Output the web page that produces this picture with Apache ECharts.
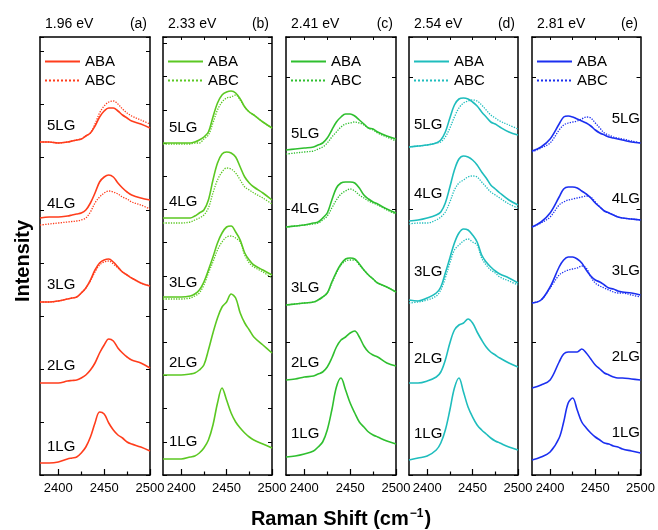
<!DOCTYPE html>
<html>
<head>
<meta charset="utf-8">
<script src="https://cdn.jsdelivr.net/npm/echarts@6/dist/echarts.min.js"></script>
<style>
  html, body { margin: 0; padding: 0; background: #fff; }
  #chart { width: 658px; height: 530px; }
</style>
</head>
<body>
<div id="chart"></div>
<script>
// Raman shift grid (cm-1) shared by every spectrum
const ramanShift = [2380, 2390, 2400, 2410, 2415, 2420, 2425, 2430, 2435, 2440,
                    2445, 2450, 2455, 2460, 2465, 2470, 2475, 2480, 2490, 2500];

const energies = ['1.96 eV', '2.33 eV', '2.41 eV', '2.54 eV', '2.81 eV'];
const panelTags = ['(a)', '(b)', '(c)', '(d)', '(e)'];
const layers = ['1LG', '2LG', '3LG', '4LG', '5LG'];
const stackings = ['ABA', 'ABC'];

// stacked intensities (arb. units), ABA rows 1LG..5LG, ABC rows 3LG..5LG
const abaA = [
  [1.2, 1.2, 1.3, 1.6, 1.7, 1.8, 2.2, 2.8, 3.8, 5.2, 6.3, 6.1, 5.2, 4.5, 4.0, 3.7, 3.3, 3.1, 2.8, 2.4],
  [9.2, 9.2, 9.2, 9.4, 9.45, 9.5, 9.7, 10.0, 10.5, 11.2, 12.2, 13.0, 13.6, 13.4, 12.7, 12.2, 11.8, 11.5, 11.2, 10.7],
  [17.3, 17.3, 17.4, 17.6, 17.7, 17.8, 18.2, 18.7, 19.5, 20.5, 21.2, 21.5, 21.6, 21.3, 20.8, 20.3, 20.0, 19.7, 19.2, 18.9],
  [25.7, 25.8, 25.8, 25.9, 26.0, 26.1, 26.2, 26.5, 27.2, 28.2, 29.3, 29.8, 30.0, 29.8, 29.2, 28.7, 28.3, 28.0, 27.7, 27.5],
  [33.3, 33.3, 33.2, 33.3, 33.4, 33.5, 33.6, 33.9, 34.2, 34.9, 35.8, 36.4, 36.7, 36.7, 36.4, 36.0, 35.7, 35.4, 35.1, 34.7]
];
const abcA = [
  [17.3, 17.3, 17.4, 17.6, 17.7, 17.8, 18.2, 18.7, 19.4, 20.3, 21.0, 21.3, 21.4, 21.1, 20.7, 20.3, 20.0, 19.7, 19.2, 18.9],
  [25.0, 25.1, 25.2, 25.3, 25.35, 25.4, 25.5, 25.7, 26.3, 27.2, 27.8, 28.2, 28.4, 28.3, 28.1, 27.8, 27.6, 27.3, 27.0, 26.6],
  [33.3, 33.3, 33.2, 33.3, 33.4, 33.5, 33.6, 33.9, 34.2, 35.1, 36.2, 36.9, 37.3, 37.4, 37.1, 36.6, 36.2, 35.9, 35.5, 35.1]
];

const abaB = [
  [1.6, 1.6, 1.6, 1.8, 1.9, 2.2, 2.7, 3.5, 5.0, 7.2, 8.7, 7.5, 6.2, 5.3, 4.7, 4.2, 3.8, 3.5, 3.1, 2.7],
  [10.0, 10.0, 10.0, 10.1, 10.2, 10.5, 11.0, 12.5, 14.2, 15.7, 16.8, 17.3, 18.1, 17.7, 16.2, 15.2, 14.5, 13.8, 13.0, 12.2],
  [17.8, 17.8, 17.8, 17.9, 18.1, 18.5, 19.3, 20.5, 21.8, 23.2, 24.2, 24.8, 24.9, 24.3, 23.5, 22.2, 21.5, 21.0, 20.5, 20.0],
  [25.7, 25.7, 25.7, 25.7, 25.9, 26.2, 26.5, 27.5, 29.5, 31.2, 32.1, 32.3, 32.2, 31.8, 30.8, 29.8, 29.2, 28.8, 28.2, 27.5],
  [33.2, 33.2, 33.2, 33.2, 33.3, 33.5, 33.8, 34.3, 35.8, 37.2, 38.0, 38.3, 38.4, 38.2, 37.6, 36.8, 36.3, 36.0, 35.3, 34.7]
];
const abcB = [
  [17.6, 17.6, 17.6, 17.7, 17.9, 18.2, 19.0, 20.2, 21.3, 22.5, 23.3, 23.8, 23.9, 23.7, 23.3, 22.0, 21.2, 20.8, 20.3, 19.7],
  [25.2, 25.2, 25.2, 25.3, 25.5, 25.7, 26.0, 26.7, 28.2, 29.5, 30.3, 30.7, 30.6, 30.2, 29.5, 28.8, 28.5, 28.2, 27.7, 27.1],
  [33.1, 33.1, 33.1, 33.1, 33.2, 33.2, 33.6, 34.0, 35.2, 36.5, 37.3, 37.7, 37.8, 38.0, 37.5, 36.8, 36.3, 36.0, 35.3, 34.7]
];

const abaC = [
  [1.8, 1.9, 2.1, 2.4, 2.8, 3.3, 4.5, 6.5, 8.8, 9.7, 8.5, 7.2, 6.2, 5.3, 4.8, 4.3, 4.0, 3.8, 3.4, 3.1],
  [9.5, 9.6, 9.8, 9.9, 10.1, 10.3, 10.8, 11.7, 12.8, 13.5, 13.8, 14.2, 14.4, 13.8, 12.9, 12.3, 12.0, 11.8, 11.2, 10.9],
  [17.0, 17.1, 17.2, 17.3, 17.5, 17.8, 18.2, 19.3, 20.3, 21.1, 21.6, 21.7, 21.6, 21.1, 20.5, 20.0, 19.6, 19.2, 18.8, 18.3],
  [24.8, 24.9, 25.0, 25.2, 25.3, 25.7, 26.2, 27.5, 28.7, 29.2, 29.3, 29.3, 29.2, 28.7, 28.0, 27.6, 27.3, 27.1, 26.6, 26.2],
  [32.5, 32.6, 32.7, 32.8, 33.0, 33.2, 33.7, 34.5, 35.3, 35.8, 36.1, 36.1, 35.9, 35.5, 35.1, 34.7, 34.6, 34.3, 33.9, 33.6]
];
const abcC = [
  [17.0, 17.1, 17.2, 17.3, 17.5, 17.8, 18.2, 19.2, 20.2, 21.0, 21.4, 21.5, 21.5, 21.0, 20.5, 20.0, 19.6, 19.2, 18.8, 18.3],
  [24.8, 24.9, 25.0, 25.1, 25.2, 25.5, 25.9, 26.7, 27.5, 28.1, 28.4, 28.6, 28.4, 28.0, 27.7, 27.4, 27.2, 27.0, 26.5, 26.1],
  [32.1, 32.2, 32.3, 32.4, 32.6, 32.8, 33.2, 33.8, 34.3, 34.8, 35.1, 35.2, 35.3, 35.2, 35.0, 34.7, 34.5, 34.2, 33.8, 33.4]
];

const abaD = [
  [1.5, 1.7, 1.9, 2.5, 3.2, 4.5, 6.5, 8.7, 9.7, 8.3, 6.8, 5.8, 5.0, 4.5, 4.1, 3.7, 3.4, 3.2, 2.8, 2.5],
  [9.2, 9.2, 9.4, 9.8, 10.3, 11.5, 13.2, 14.5, 15.0, 15.2, 15.6, 15.2, 14.3, 13.5, 12.8, 12.3, 12.0, 11.7, 11.2, 10.8],
  [17.5, 17.4, 17.7, 18.2, 18.8, 20.2, 21.7, 23.2, 24.2, 24.6, 24.5, 24.0, 23.3, 22.0, 21.3, 20.8, 20.4, 20.1, 19.7, 19.2],
  [25.4, 25.5, 25.7, 26.0, 26.3, 27.2, 28.8, 30.5, 31.6, 31.9, 31.8, 31.5, 31.0, 30.3, 29.7, 29.0, 28.6, 28.2, 27.5, 27.0],
  [32.8, 32.9, 33.0, 33.2, 33.5, 34.3, 35.7, 37.0, 37.6, 37.7, 37.6, 37.3, 36.9, 36.3, 35.8, 35.3, 35.1, 34.8, 34.3, 34.0]
];
const abcD = [
  [17.2, 17.3, 17.5, 17.9, 18.5, 19.7, 21.2, 22.5, 23.0, 23.4, 23.6, 23.3, 23.0, 21.7, 21.0, 20.5, 20.2, 19.8, 19.4, 19.0],
  [25.1, 25.2, 25.2, 25.5, 25.8, 26.3, 27.3, 28.5, 29.2, 29.5, 29.8, 29.9, 29.8, 29.3, 28.8, 28.3, 28.0, 27.7, 27.1, 26.7],
  [32.8, 32.9, 33.0, 33.2, 33.3, 33.8, 34.7, 35.8, 36.7, 37.2, 37.4, 37.5, 37.4, 37.0, 36.5, 36.0, 35.7, 35.4, 35.0, 34.6]
];

const abaE = [
  [1.5, 1.8, 2.3, 3.7, 5.3, 7.2, 7.7, 6.5, 5.3, 4.7, 4.2, 3.8, 3.5, 3.2, 3.1, 2.9, 2.8, 2.6, 2.4, 2.2],
  [8.7, 9.0, 9.5, 11.3, 12.1, 12.3, 12.3, 12.3, 12.6, 12.2, 11.6, 11.0, 10.6, 10.2, 10.0, 9.8, 9.7, 9.7, 9.6, 9.5],
  [17.2, 17.5, 18.8, 20.8, 21.5, 21.8, 21.8, 21.6, 21.2, 20.5, 19.9, 19.5, 19.3, 19.0, 18.7, 18.6, 18.4, 18.3, 18.2, 18.0],
  [24.8, 25.3, 26.2, 27.8, 28.6, 28.8, 28.8, 28.7, 28.4, 28.1, 27.7, 27.2, 26.8, 26.4, 26.2, 26.0, 25.8, 25.7, 25.6, 25.5],
  [32.4, 32.8, 33.6, 35.1, 35.8, 35.9, 35.8, 35.6, 35.4, 35.2, 34.9, 34.5, 34.2, 34.0, 33.8, 33.7, 33.6, 33.5, 33.3, 33.2]
];
const abcE = [
  [17.2, 17.5, 18.7, 20.0, 20.3, 20.5, 20.6, 20.7, 20.9, 20.7, 19.8, 19.2, 18.9, 18.7, 18.5, 18.3, 18.2, 18.2, 18.0, 17.8],
  [24.8, 25.2, 25.8, 27.0, 27.3, 27.5, 27.6, 27.7, 27.8, 27.9, 27.8, 27.3, 26.8, 26.4, 26.2, 26.0, 25.8, 25.7, 25.6, 25.5],
  [32.3, 32.7, 33.2, 34.5, 35.0, 35.2, 35.3, 35.4, 35.6, 35.8, 35.7, 35.2, 34.7, 34.2, 34.0, 33.8, 33.7, 33.6, 33.4, 33.2]
];

const abaSets = [abaA, abaB, abaC, abaD, abaE];
const abcSets = [abcA, abcB, abcC, abcD, abcE];

// layout / style
const colors = ['#ff3d1c', '#5bc822', '#2fbf2f', '#1fbdbd', '#1b2ff0'];
const gridLeft = [40, 163, 286, 409, 532];
const gridWidth = [110, 109, 110, 109, 109];
const yInterval = [5.3, 3.32, 13.27, 13.27, 13.27];
const yMax = 43.8;
// label anchor per panel [x, y of 1LG..5LG]; panel e is right-aligned
const labelX = [47, 169, 291, 414, 640];
const labelY = [
  [447, 366, 285, 204, 126],
  [442, 363, 283, 202, 128],
  [434, 363, 288, 209, 134],
  [434, 359, 272, 194, 125],
  [433, 357, 271, 199, 119]
];
const font = '"Liberation Sans", Arial, Helvetica, sans-serif';
const keys = ['a', 'b', 'c', 'd', 'e'];

const grid = [], xAxis = [], yAxis = [], series = [], legend = [], texts = [];
const black = { color: '#000', width: 1.5 };

for (let i = 0; i < 5; i++) {
  grid.push({ left: gridLeft[i], width: gridWidth[i], top: 37, bottom: 55 });

  xAxis.push({
    gridIndex: i, type: 'value', min: 2380, max: 2500, position: 'bottom',
    axisLine: { show: true, onZero: false, lineStyle: black },
    axisTick: { show: true, inside: true, length: 6, customValues: [2400, 2450, 2500], lineStyle: { color: '#000', width: 1.2 } },
    axisLabel: { show: true, customValues: [2400, 2450, 2500], formatter: v => String(v), color: '#000', fontSize: 13, margin: 7, fontFamily: font },
    splitLine: { show: false }
  });
  xAxis.push({
    gridIndex: i, type: 'value', min: 2380, max: 2500, position: 'bottom',
    axisLine: { show: false },
    axisTick: { show: true, inside: true, length: 3.5, customValues: [2425, 2475], lineStyle: { color: '#000', width: 1.2 } },
    axisLabel: { show: false }, splitLine: { show: false }
  });
  xAxis.push({
    gridIndex: i, type: 'value', min: 2380, max: 2500, position: 'top',
    axisLine: { show: true, onZero: false, lineStyle: black },
    axisTick: { show: i > 0, inside: true, length: 3, customValues: [2400, 2425, 2450, 2475], lineStyle: { color: '#000', width: 1 } },
    axisLabel: { show: false }, splitLine: { show: false }
  });

  ['left', 'right'].forEach(pos => yAxis.push({
    gridIndex: i, type: 'value', min: 0, max: yMax, interval: yInterval[i], position: pos,
    axisLine: { show: true, onZero: false, lineStyle: black },
    axisTick: { show: true, inside: true, length: 4, lineStyle: { color: '#000', width: 1 } },
    axisLabel: { show: false }, splitLine: { show: false }
  }));

  abaSets[i].forEach(vals => series.push({
    name: keys[i] + '-ABA', type: 'line', xAxisIndex: i * 3, yAxisIndex: i * 2,
    data: ramanShift.map((x, j) => [x, vals[j]]),
    symbol: 'none', smooth: 0.35, z: 3,
    lineStyle: { color: colors[i], width: 1.6 }, itemStyle: { color: colors[i] }
  }));
  abcSets[i].forEach(vals => series.push({
    name: keys[i] + '-ABC', type: 'line', xAxisIndex: i * 3, yAxisIndex: i * 2,
    data: ramanShift.map((x, j) => [x, vals[j]]),
    symbol: 'none', smooth: 0.35, z: 2,
    lineStyle: { color: colors[i], width: 1.3, type: 'dotted' }, itemStyle: { color: colors[i] }
  }));

  legend.push({
    data: stackings.map(s => keys[i] + '-' + s),
    formatter: n => n.split('-')[1],
    orient: 'vertical', left: gridLeft[i] + 4, top: 54, padding: 0,
    itemWidth: 35, itemHeight: 14, itemGap: 4, selectedMode: false,
    itemStyle: { opacity: 0 },
    textStyle: { fontSize: 15, color: '#000', fontFamily: font }
  });

  texts.push({ type: 'text', x: gridLeft[i] + 5, y: 24,
    style: { text: energies[i], fontSize: 14, fontFamily: font, fill: '#000', align: 'left', verticalAlign: 'middle', textAlign: 'left', textVerticalAlign: 'middle' } });
  texts.push({ type: 'text', x: gridLeft[i] + gridWidth[i] - 3, y: 24,
    style: { text: panelTags[i], fontSize: 14, fontFamily: font, fill: '#000', align: 'right', verticalAlign: 'middle', textAlign: 'right', textVerticalAlign: 'middle' } });

  const al = i === 4 ? 'right' : 'left';
  layers.forEach((name, k) => texts.push({ type: 'text', x: labelX[i], y: labelY[i][k],
    style: { text: name, fontSize: 15, fontFamily: font, fill: '#000', align: al, verticalAlign: 'middle', textAlign: al, textVerticalAlign: 'middle' } }));
}

texts.push({ type: 'text', x: 23, y: 261, rotation: Math.PI / 2,
  style: { text: 'Intensity', fontSize: 20, fontWeight: 'bold', fontFamily: font, fill: '#000', align: 'center', verticalAlign: 'middle', textAlign: 'center', textVerticalAlign: 'middle' } });
texts.push({ type: 'text', x: 341, y: 519,
  style: {
    text: '{b|Raman Shift (cm}{s|\u22121}{b|)}', fontFamily: font, fill: '#000',
    align: 'center', verticalAlign: 'middle', textAlign: 'center', textVerticalAlign: 'middle',
    rich: {
      b: { fontSize: 20, fontWeight: 'bold', fontFamily: font, fill: '#000', lineHeight: 22 },
      s: { fontSize: 12, fontWeight: 'bold', fontFamily: font, fill: '#000', verticalAlign: 'top', lineHeight: 22, padding: [0, 1, 10, 1] }
    }
  } });

const chart = echarts.init(document.getElementById('chart'), null, { renderer: 'canvas' });
chart.setOption({
  animation: false,
  backgroundColor: '#fff',
  grid, xAxis, yAxis, series, legend,
  graphic: { elements: texts }
});
</script>
</body>
</html>
